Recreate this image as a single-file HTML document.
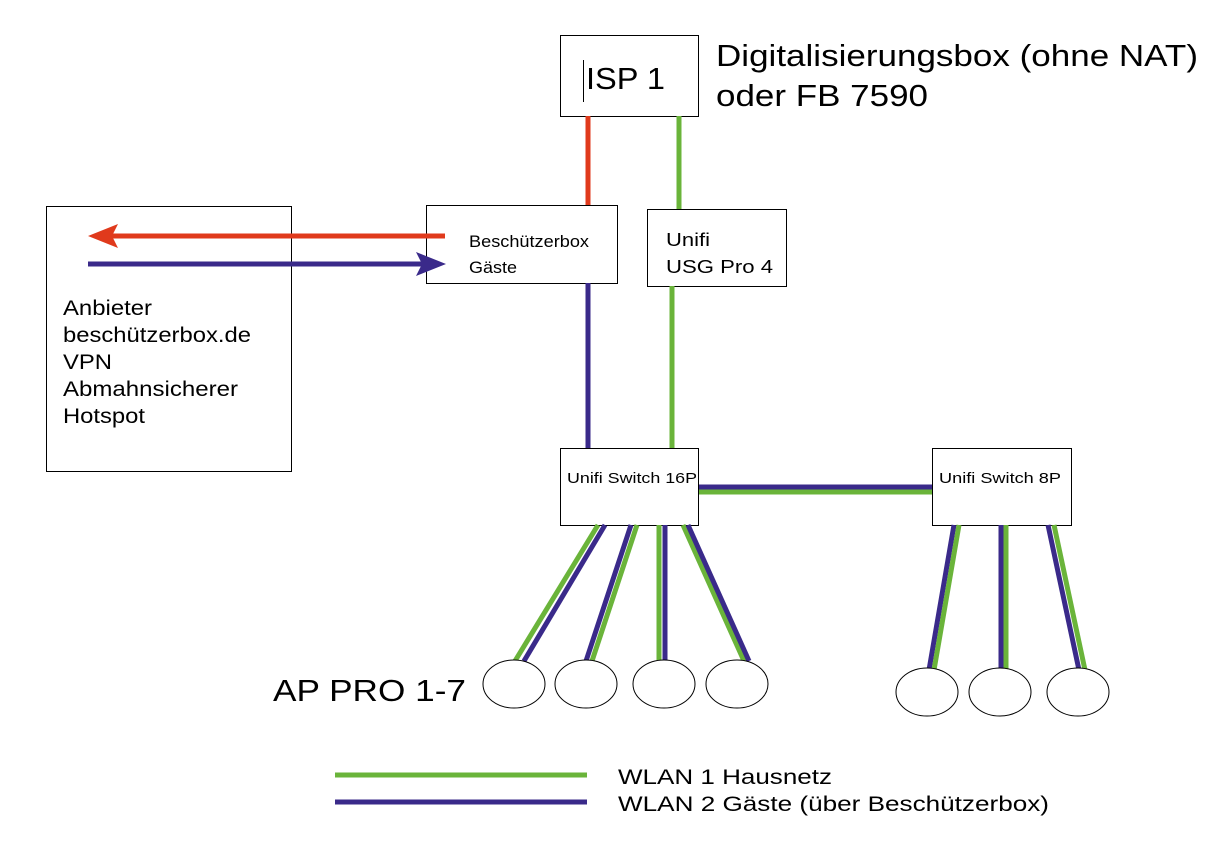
<!DOCTYPE html>
<html><head><meta charset="utf-8"><style>
html,body{margin:0;padding:0;background:#fff;}
svg{display:block;}
text{font-family:"Liberation Sans",Arial,sans-serif;fill:#000;}
</style></head><body>
<svg width="1209" height="851" viewBox="0 0 1209 851" xmlns="http://www.w3.org/2000/svg">
<rect width="1209" height="851" fill="#fff"/>
<g fill="#fff" stroke="#000" stroke-width="1">
<rect x="560.5" y="35.5" width="138" height="81"/>
<rect x="426.5" y="205.5" width="191" height="78"/>
<rect x="647.5" y="209.5" width="139" height="77"/>
<rect x="46.5" y="206.5" width="245" height="265"/>
</g>
<line x1="588" y1="116" x2="588" y2="205" stroke="#e03a1c" stroke-width="5"/>
<line x1="679" y1="116" x2="679" y2="209" stroke="#6ab43a" stroke-width="5"/>
<line x1="588" y1="283" x2="588" y2="448" stroke="#3a2a8a" stroke-width="5"/>
<line x1="672" y1="286" x2="672" y2="448" stroke="#6ab43a" stroke-width="5"/>
<line x1="445" y1="236" x2="110" y2="236" stroke="#e03a1c" stroke-width="5"/>
<polygon points="88,236 118,224 112,236 118,248" fill="#e03a1c"/>
<line x1="88" y1="264" x2="424" y2="264" stroke="#3a2a8a" stroke-width="5"/>
<polygon points="446,264 416,252 422,264 416,276" fill="#3a2a8a"/>
<line x1="699" y1="487" x2="932" y2="487" stroke="#3a2a8a" stroke-width="5"/>
<line x1="699" y1="492" x2="932" y2="492" stroke="#6ab43a" stroke-width="5"/>
<g fill="#fff" stroke="#000" stroke-width="1">
<rect x="560.5" y="448.5" width="138" height="77"/>
<rect x="932.5" y="448.5" width="139" height="77"/>
</g>
<g stroke-width="5">
<line x1="598" y1="525" x2="515" y2="661" stroke="#6ab43a"/>
<line x1="605" y1="525" x2="524" y2="661" stroke="#3a2a8a"/>
<line x1="631" y1="525" x2="586" y2="661" stroke="#3a2a8a"/>
<line x1="637" y1="525" x2="592" y2="661" stroke="#6ab43a"/>
<line x1="659" y1="525" x2="659" y2="661" stroke="#6ab43a"/>
<line x1="665" y1="525" x2="665" y2="661" stroke="#3a2a8a"/>
<line x1="683" y1="525" x2="744" y2="661" stroke="#6ab43a"/>
<line x1="688" y1="525" x2="749" y2="661" stroke="#3a2a8a"/>
<line x1="954" y1="525" x2="929" y2="670" stroke="#3a2a8a"/>
<line x1="959" y1="525" x2="934" y2="670" stroke="#6ab43a"/>
<line x1="1001" y1="525" x2="1001" y2="670" stroke="#3a2a8a"/>
<line x1="1006" y1="525" x2="1006" y2="670" stroke="#6ab43a"/>
<line x1="1048" y1="525" x2="1079" y2="670" stroke="#3a2a8a"/>
<line x1="1054" y1="525" x2="1085" y2="670" stroke="#6ab43a"/>
</g>
<g fill="#fff" stroke="#000" stroke-width="1">
<ellipse cx="514" cy="684" rx="31" ry="24"/>
<ellipse cx="586" cy="684" rx="31" ry="24"/>
<ellipse cx="664" cy="684" rx="31" ry="24"/>
<ellipse cx="737" cy="684" rx="31" ry="24"/>
<ellipse cx="927" cy="692" rx="31" ry="24"/>
<ellipse cx="1000" cy="692" rx="31" ry="24"/>
<ellipse cx="1078" cy="692" rx="31" ry="24"/>
</g>
<line x1="335" y1="775" x2="587" y2="775" stroke="#6ab43a" stroke-width="5"/>
<line x1="335" y1="802" x2="587" y2="802" stroke="#3a2a8a" stroke-width="5"/>
<line x1="583.5" y1="60" x2="583.5" y2="102" stroke="#000" stroke-width="1"/>
<text x="586" y="89" font-size="31" textLength="79" lengthAdjust="spacingAndGlyphs">ISP 1</text>
<text x="716" y="66" font-size="31" textLength="482" lengthAdjust="spacingAndGlyphs">Digitalisierungsbox (ohne NAT)</text>
<text x="716" y="106" font-size="31" textLength="212" lengthAdjust="spacingAndGlyphs">oder FB 7590</text>
<text x="469" y="247" font-size="17" textLength="120" lengthAdjust="spacingAndGlyphs">Beschützerbox</text>
<text x="469" y="273" font-size="17" textLength="48" lengthAdjust="spacingAndGlyphs">Gäste</text>
<text x="666" y="246" font-size="18" textLength="44" lengthAdjust="spacingAndGlyphs">Unifi</text>
<text x="666" y="273" font-size="18" textLength="107" lengthAdjust="spacingAndGlyphs">USG Pro 4</text>
<g font-size="21">
<text x="63" y="315" textLength="89" lengthAdjust="spacingAndGlyphs">Anbieter</text>
<text x="63" y="342" textLength="188" lengthAdjust="spacingAndGlyphs">beschützerbox.de</text>
<text x="63" y="369" textLength="49" lengthAdjust="spacingAndGlyphs">VPN</text>
<text x="63" y="396" textLength="175" lengthAdjust="spacingAndGlyphs">Abmahnsicherer</text>
<text x="63" y="423" textLength="82" lengthAdjust="spacingAndGlyphs">Hotspot</text>
</g>
<text x="567" y="483" font-size="15" textLength="130" lengthAdjust="spacingAndGlyphs">Unifi Switch 16P</text>
<text x="939" y="483" font-size="15" textLength="122" lengthAdjust="spacingAndGlyphs">Unifi Switch 8P</text>
<text x="273" y="701" font-size="31" textLength="193" lengthAdjust="spacingAndGlyphs">AP PRO 1-7</text>
<text x="618" y="784" font-size="21" textLength="214" lengthAdjust="spacingAndGlyphs">WLAN 1 Hausnetz</text>
<text x="618" y="811" font-size="21" textLength="431" lengthAdjust="spacingAndGlyphs">WLAN 2 Gäste (über Beschützerbox)</text>
</svg>
</body></html>
